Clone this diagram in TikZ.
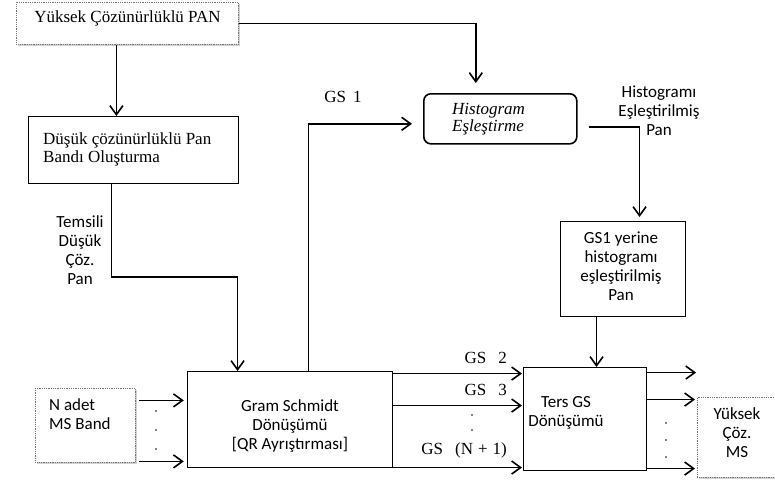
\documentclass[tikz,border=0pt]{standalone}
\usepackage{fontspec}
\setmainfont{Liberation Serif}
\newfontfamily\carlito{Carlito}
\usetikzlibrary{arrows.meta,shadows}
\begin{document}
\begin{tikzpicture}[x=1pt,y=-1pt,
  box/.style={draw, line width=1.1pt, rectangle, inner sep=0pt, anchor=north west},
  shbox/.style={draw=black!55, densely dotted, line width=0.8pt, fill=white,
    inner sep=0pt, anchor=north west,
    drop shadow={shadow xshift=2pt, shadow yshift=-2pt, fill=black!30, opacity=0.6}},
  serif/.style={font=\fontsize{17}{18}\selectfont, align=left, inner sep=0pt},
  sans/.style={font=\carlito\fontsize{17}{19}\selectfont, align=center, inner sep=0pt},
  arr/.style={-{Straight Barb[length=9pt,width=13pt,line width=1.6pt]}, line width=1.6pt},
  pt/.style={circle, fill, inner sep=0pt, minimum size=1.9pt}]
\useasboundingbox (0,0) rectangle (775,485);

% --- boxes -------------------------------------------------------------
\node[shbox, minimum width=222pt, minimum height=42pt] (pan) at (16,2) {};
\node[serif] (panT) at (127.5,18) {Yüksek Çözünürlüklü PAN};

\node[box, minimum width=210pt, minimum height=67pt] (low) at (28,116) {};
\node[serif, anchor=west] (lowT) at (43,149) {Düşük çözünürlüklü Pan\\Bandı Oluşturma};

\node[box, rounded corners=7pt, line width=1.6pt, minimum width=153pt, minimum height=50pt] (hist) at (423,93) {};
\node[serif, font=\itshape\fontsize{17}{15}\selectfont, anchor=west] (histT) at (452,119) {Histogram\\Eşleştirme};

\node[sans] (hmT) at (659,111) {Histogramı\\Eşleştirilmiş\\Pan};

\node[box, minimum width=125pt, minimum height=95pt] (gs1) at (560,221) {};
\node[sans] (gs1T) at (621,266.5) {GS1 yerine\\histogramı\\eşleştirilmiş\\Pan};

\node[sans] (tmT) at (80,250.5) {Temsili\\Düşük\\Çöz.\\Pan};

\node[box, minimum width=205pt, minimum height=96pt] (gs) at (187,371) {};
\node[sans] (gsT) at (290,426) {Gram Schmidt\\Dönüşümü\\{[QR Ayrıştırması]}};

\node[box, minimum width=123pt, minimum height=103pt] (ters) at (523,367) {};
\node[sans] (tersT) at (566,413) {Ters GS\\Dönüşümü};

\node[shbox, minimum width=100pt, minimum height=74pt] (nms) at (35,388) {};
\node[sans, align=left, anchor=west] (nmsT) at (49,414.5) {N adet\\MS Band};

\node[shbox, minimum width=100pt, minimum height=80pt] (yms) at (697,397) {};
\node[sans] (ymsT) at (737,432.5) {Yüksek\\Çöz.\\MS};

% --- signal labels -----------------------------------------------------
\node[serif] (l1) at (343,97) {GS\hspace{7pt}1};
\node[serif, anchor=east] (l2) at (507,358) {GS\hspace{12pt}2};
\node[serif, anchor=east] (l3) at (507,390) {GS\hspace{12pt}3};
\node[serif, anchor=east] (lN) at (507,450) {GS\hspace{12pt}(N\hspace{5pt}+\hspace{5pt}1)};
\node[pt] (d1) at (472,415) {};
\node[pt] (d2) at (472,430) {};

\node[pt] (m1) at (156,411) {};
\node[pt] (m2) at (156,430) {};
\node[pt] (m3) at (156,449) {};

\node[pt] (o1) at (666,423) {};
\node[pt] (o2) at (666,440) {};
\node[pt] (o3) at (666,457) {};

% --- connectors --------------------------------------------------------
\draw[arr] ([xshift=-11pt]pan.south) -- ([xshift=-11pt]pan.south |- low.north);
\draw[arr] (pan.east) -| ([xshift=-24.5pt,yshift=10pt]hist.north);
\draw[arr] ([xshift=-22pt]low.south) -- ++(0,93) -| ([xshift=-52.5pt]gs.north);
\draw[arr] ([xshift=18.5pt]gs.north) |- ([xshift=-11pt,yshift=-5pt]hist.west);
\draw[arr] ([xshift=11pt,yshift=-8pt]hist.east) -| ([xshift=16.5pt,yshift=4pt]gs1.north);
\draw[arr] ([xshift=-26.5pt]gs1.south) -- ([xshift=-26.5pt]gs1.south |- ters.north);

% MS bands into the transform
\draw[arr] ([xshift=3pt,yshift=25pt]nms.east) -- ++(45,0);
\draw[arr] ([xshift=3pt,yshift=-36pt]nms.east) -- ++(45,0);

% GS components into the inverse transform
\coordinate (g2) at ([yshift=46pt]gs.east);
\coordinate (g3) at ([yshift=14pt]gs.east);
\coordinate (gN) at ([yshift=-48pt]gs.east);
\draw[arr] (g2) -- ([xshift=-1pt]g2 -| ters.west);
\draw[arr] (g3) -- ([xshift=-1pt]g3 -| ters.west);
\draw[arr] (gN) -- ([xshift=-1pt]gN -| ters.west);

% outputs of the inverse transform
\draw[arr] ([yshift=46.5pt]ters.east) -- ++(49,0);
\draw[arr] ([yshift=19.5pt]ters.east) -- ([xshift=-2pt,yshift=19.5pt]ters.east -| yms.west);
\draw[arr] ([yshift=-49.5pt]ters.east) -- ([xshift=-2pt,yshift=-49.5pt]ters.east -| yms.west);
\end{tikzpicture}
\end{document}
